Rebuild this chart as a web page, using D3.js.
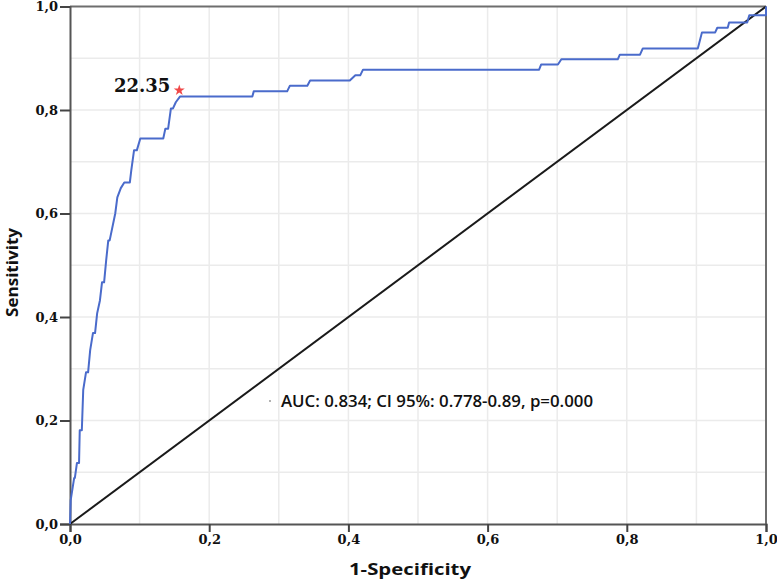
<!DOCTYPE html>
<html>
<head>
<meta charset="utf-8">
<script src="https://cdn.jsdelivr.net/npm/d3@7"></script>
<style>
  body { margin: 0; background: #fff; }
  svg { display: block; }
</style>
</head>
<body>
<div id="canvas"></div>
<script>
// -------------------------------------------- Data
const rocFpr = [0, 0.001, 0.006, 0.007, 0.010, 0.013, 0.014, 0.017, 0.019, 0.023, 0.026, 0.029,
  0.033, 0.036, 0.039, 0.043, 0.046, 0.049, 0.052, 0.055, 0.057, 0.065, 0.068, 0.073, 0.078,
  0.086, 0.088, 0.092, 0.096, 0.101, 0.134, 0.137, 0.141, 0.145, 0.148, 0.152, 0.158, 0.262,
  0.264, 0.312, 0.316, 0.341, 0.345, 0.402, 0.410, 0.417, 0.421, 0.674, 0.677, 0.701, 0.706,
  0.787, 0.790, 0.819, 0.823, 0.902, 0.904, 0.908, 0.927, 0.930, 0.945, 0.947, 0.973, 0.976,
  1, 1];
const rocTpr = [0, 0.046, 0.089, 0.089, 0.118, 0.118, 0.181, 0.181, 0.259, 0.293, 0.293, 0.336,
  0.369, 0.369, 0.407, 0.432, 0.467, 0.467, 0.510, 0.548, 0.548, 0.600, 0.631, 0.649, 0.660,
  0.660, 0.683, 0.722, 0.722, 0.745, 0.745, 0.764, 0.764, 0.803, 0.803, 0.815, 0.826, 0.826,
  0.836, 0.836, 0.847, 0.847, 0.857, 0.857, 0.867, 0.867, 0.878, 0.878, 0.888, 0.888, 0.898,
  0.898, 0.907, 0.907, 0.919, 0.919, 0.929, 0.950, 0.950, 0.959, 0.959, 0.969, 0.969, 0.983,
  0.983, 1];

const cutoffLabel = "22.35";
const cutoffPoint = [0.157, 0.838];

const tickValues = [0, 0.2, 0.4, 0.6, 0.8, 1.0];
const gridValues = [0.1, 0.2, 0.3, 0.4, 0.5, 0.6, 0.7, 0.8, 0.9];
const aucText = "AUC: 0.834; CI 95%: 0.778-0.89, p=0.000";

// -------------------------------------------- Dimensiones del lienzo
const width = 777;
const height = 580;
const margin = { top: 6.5, left: 70, bottom: 56, right: 11 };
const iwidth = width - margin.left - margin.right;
const iheight = height - margin.top - margin.bottom;

const svg = d3.select("#canvas").append("svg")
  .attr("width", width)
  .attr("height", height);

const g = svg.append("g")
  .attr("transform", `translate(${margin.left},${margin.top})`);

const x = d3.scaleLinear().domain([0, 1]).range([0, iwidth]);
const y = d3.scaleLinear().domain([0, 1]).range([iheight, 0]);

const fmt = (d) => d3.format(".1f")(d).replace(".", ",");

// -- Grid
g.append("g").selectAll("line").data(gridValues).enter().append("line")
  .attr("x1", (d) => x(d)).attr("x2", (d) => x(d))
  .attr("y1", 0).attr("y2", iheight)
  .attr("stroke", "#ebebeb").attr("stroke-width", 1.5);

g.append("g").selectAll("line").data(gridValues).enter().append("line")
  .attr("y1", (d) => y(d)).attr("y2", (d) => y(d))
  .attr("x1", 0).attr("x2", iwidth)
  .attr("stroke", "#ebebeb").attr("stroke-width", 1.5);

// -- Frame (top + right)
g.append("line").attr("x1", 0).attr("x2", iwidth).attr("y1", 0).attr("y2", 0)
  .attr("stroke", "#6e6e6e").attr("stroke-width", 2);
g.append("line").attr("x1", iwidth).attr("x2", iwidth).attr("y1", 0).attr("y2", iheight)
  .attr("stroke", "#6e6e6e").attr("stroke-width", 2);

// -- Eje X
const xAxis = g.append("g")
  .attr("transform", `translate(0,${iheight})`)
  .call(d3.axisBottom(x).tickValues(tickValues).tickFormat(fmt).tickSize(8).tickPadding(3));

// -- Eje Y
const yAxis = g.append("g")
  .call(d3.axisLeft(y).tickValues(tickValues).tickFormat(fmt).tickSize(10).tickPadding(2));

[xAxis, yAxis].forEach((a) => {
  a.select(".domain").attr("stroke", "#555").attr("stroke-width", 2);
  a.selectAll(".tick line").attr("stroke", "#444").attr("stroke-width", 2);
  a.selectAll(".tick text")
    .attr("fill", "#111")
    .style("font-family", "'DejaVu Serif', serif")
    .style("font-weight", "bold")
    .style("font-size", "13px");
});

// -- Diagonal
g.append("line")
  .attr("x1", x(0)).attr("y1", y(0))
  .attr("x2", x(1)).attr("y2", y(1))
  .attr("stroke", "#1a1a1a").attr("stroke-width", 2);

// -- ROC curve
const rocData = rocFpr.map((f, i) => [f, rocTpr[i]]);
g.append("path")
  .datum(rocData)
  .attr("fill", "none")
  .attr("stroke", "#4a6bcb")
  .attr("stroke-width", 2)
  .attr("stroke-linejoin", "round")
  .attr("d", d3.line().x((d) => x(d[0])).y((d) => y(d[1])));

// -- Cutoff
g.append("path")
  .attr("d", d3.symbol().type(d3.symbolStar).size(38)())
  .attr("transform", `translate(${x(cutoffPoint[0])},${y(cutoffPoint[1])})`)
  .attr("fill", "#f04848");

g.append("text")
  .attr("x", x(cutoffPoint[0]) - 9)
  .attr("y", y(cutoffPoint[1]) + 1.5)
  .attr("text-anchor", "end")
  .style("font-family", "'DejaVu Serif', serif")
  .style("font-weight", "bold")
  .style("font-size", "18px")
  .attr("fill", "#111")
  .text(cutoffLabel);

// -- AUC
g.append("circle")
  .attr("cx", 200).attr("cy", 394.5).attr("r", 1)
  .attr("fill", "#999");
g.append("text")
  .attr("x", 211)
  .attr("y", 400.5)
  .attr("textLength", 312)
  .attr("lengthAdjust", "spacingAndGlyphs")
  .style("font-family", "'Open Sans', sans-serif")
  .style("font-weight", 600)
  .style("font-size", "16px")
  .attr("fill", "#111")
  .text(aucText);

// -- Titulos
svg.append("text")
  .attr("x", 349)
  .attr("y", 575)
  .attr("textLength", 122)
  .attr("lengthAdjust", "spacingAndGlyphs")
  .style("font-family", "'Open Sans', sans-serif")
  .style("font-weight", "bold")
  .style("font-size", "16.5px")
  .attr("fill", "#111")
  .text("1-Specificity");

svg.append("text")
  .attr("transform", `translate(18,317) rotate(-90)`)
  .attr("textLength", 89)
  .attr("lengthAdjust", "spacingAndGlyphs")
  .style("font-family", "'Open Sans', sans-serif")
  .style("font-weight", "bold")
  .style("font-size", "16.5px")
  .attr("fill", "#111")
  .text("Sensitivity");
</script>
</body>
</html>
